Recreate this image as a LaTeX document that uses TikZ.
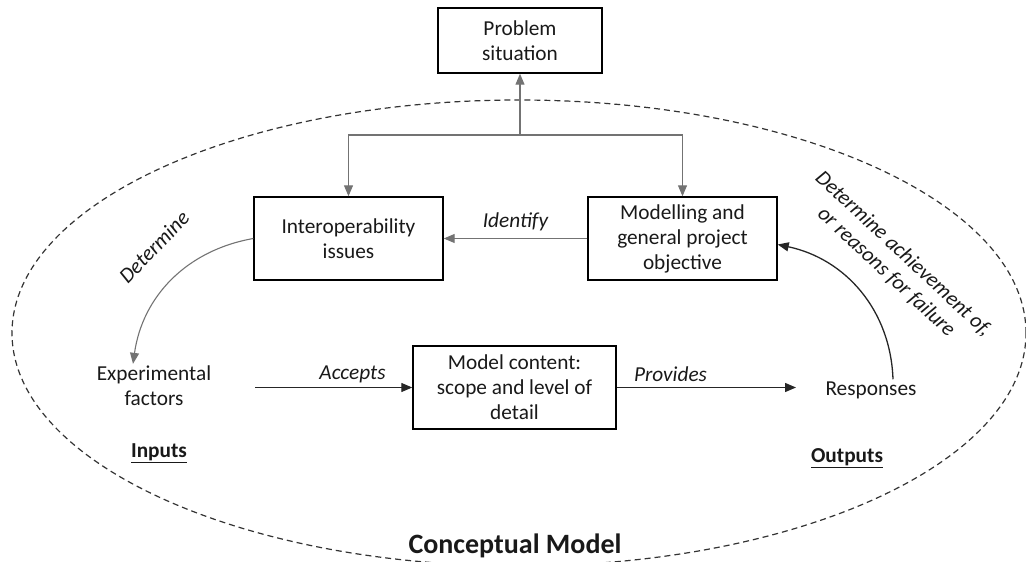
\documentclass[tikz,border=0pt]{standalone}
\usepackage{fontspec}
\setmainfont{Carlito}
\usetikzlibrary{arrows.meta}
\definecolor{linkgrey}{RGB}{115,115,115}
\begin{document}
\begin{tikzpicture}[x=1pt,y=1pt,
  every node/.style={font=\fontsize{21.3}{25}\selectfont, text=black!90},
  box/.style={draw=black, line width=1.4pt, align=center, inner sep=2pt},
  plain/.style={align=center, inner sep=2pt},
  lbl/.style={font=\fontsize{21.3}{25}\selectfont\itshape, inner sep=1pt},
  tag/.style={font=\fontsize{21.3}{25}\selectfont\bfseries, inner sep=1pt},
  tip/.style={-{Triangle[length=11pt,width=9pt]}},
  greyline/.style={draw=linkgrey, line width=1.1pt, tip},
  blackline/.style={draw=black!85, line width=1.3pt, tip},
  boundary/.style={draw=black!80, line width=1.2pt, dash pattern=on 6pt off 4pt}]
\useasboundingbox (0,0) rectangle (1026,-562);

% conceptual model boundary
\draw[boundary] (519,-333) ellipse [x radius=507, y radius=233];

% boxes
\node[box, minimum width=164, minimum height=65] (ps) at (520,-40.5) {Problem\\situation};
\node[box, minimum width=189, minimum height=83] (io) at (348.5,-238.5) {Interoperability\\issues};
\node[box, minimum width=189, minimum height=83] (mo) at (682.5,-238.5) {Modelling and\\general project\\objective};
\node[box, minimum width=203, minimum height=83] (mc) at (514.5,-387.5) {Model content:\\scope and level of\\detail};

% free-standing texts
\node[plain] (ef) at (154,-386) {Experimental\\factors};
\node[plain] (resp) at (871,-390) {Responses};
\node[tag] (inputs) at (159,-453) {\underline{Inputs}};
\node[tag] (outputs) at (847,-458) {\underline{Outputs}};
\node[font=\fontsize{28}{32}\selectfont\bfseries, inner sep=1pt, anchor=base] (cm) at (515,-553) {Conceptual Model};

% labels on curved connectors
\node[lbl, rotate=46] (detl) at (154,-247) {Determine};
\node[lbl, rotate=-43, align=center] (detr) at (895,-263) {Determine achievement of,\\or reasons for failure};

% connectors from the top box
\coordinate (fork) at (520,-135);
\draw[greyline] (fork) -- (ps.south);
\draw[greyline] (fork) -| (io.north);
\draw[greyline] (fork) -| (mo.north);

% identify
\draw[greyline] (mo.west) -- node[lbl, yshift=17pt] (idl) {Identify} (io.east);

% determine (left)
\draw[greyline] (io.west) to[out=190, in=82] ([xshift=-21pt]ef.north);

% inputs and outputs of the model content
\coordinate (accin) at (255,-387.5);
\coordinate (provout) at (796,-387.5);
\draw[blackline] (accin) -- node[lbl, pos=0.62, yshift=13pt] (accl) {Accepts} (mc.west);
\draw[blackline] (mc.east) -- node[lbl, pos=0.3, yshift=13pt] (provl) {Provides} (provout);

% determine achievement (right)
\draw[blackline] ([xshift=22pt]resp.north) to[out=92, in=-12] ([yshift=-6pt]mo.east);
\end{tikzpicture}
\end{document}
